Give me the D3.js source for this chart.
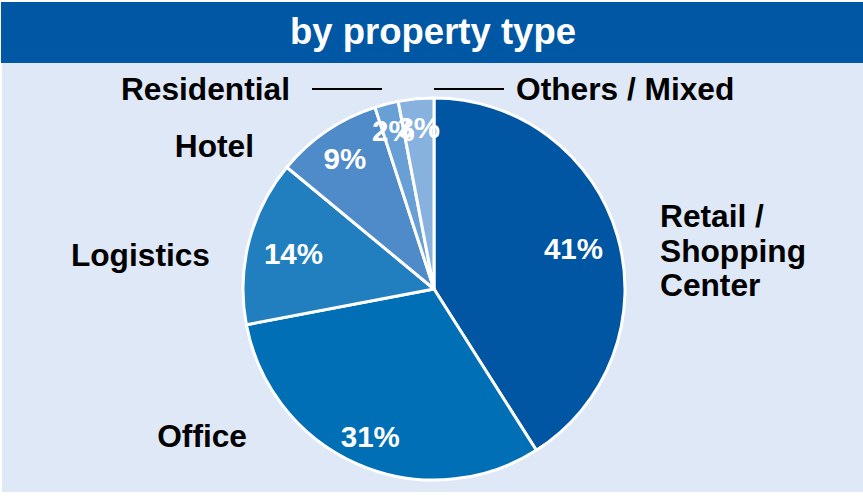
<!DOCTYPE html>
<html>
<head>
<meta charset="utf-8">
<script src="https://cdn.jsdelivr.net/npm/d3@7/dist/d3.min.js"></script>
<style>
  html, body { margin: 0; padding: 0; background: #ffffff; }
  svg { display: block; }
  text { font-family: "Liberation Sans", Arial, sans-serif; font-weight: bold; }
</style>
</head>
<body>
<svg id="chart" width="863" height="497"></svg>
<script>
// Portfolio split by property type (share in %)
const title = "by property type";
const categories = ["Retail / Shopping Center", "Office", "Logistics", "Hotel", "Residential", "Others / Mixed"];
const values = [41, 31, 14, 9, 2, 3];
const valueLabels = ["41%", "31%", "14%", "9%", "2%", "3%"];

// Slice colours, one per category
const colors = ["#0056A2", "#006FB5", "#217FC0", "#4E8BC8", "#68A0D5", "#87B1DE"];

const W = 863, H = 497;
const cx = 434, cy = 289, R = 191;

const svg = d3.select("#chart");

// header band and panel
svg.append("rect").attr("x", 1).attr("y", 2).attr("width", W - 1).attr("height", 61).attr("fill", "#0057A4");
svg.append("rect").attr("x", 2).attr("y", 63).attr("width", W - 2).attr("height", 429).attr("fill", "#DFE8F6");
svg.append("text")
  .attr("x", 433).attr("y", 44)
  .attr("text-anchor", "middle")
  .attr("fill", "#ffffff")
  .style("font-size", "36.5px")
  .text(title);

const pie = d3.pie().sort(null).value(d => d)(values);
const arc = d3.arc().innerRadius(0).outerRadius(R);

const g = svg.append("g").attr("transform", `translate(${cx},${cy})`);

g.selectAll("path.slice")
  .data(pie)
  .join("path")
  .attr("class", "slice")
  .attr("d", arc)
  .attr("fill", (d, i) => colors[i])
  .attr("stroke", "#ffffff")
  .attr("stroke-width", 3)
  .attr("stroke-linejoin", "round");

// value labels inside the slices, at a per-slice fraction of the radius
const labelRadius = [0.76, 0.84, 0.76, 0.83, 0.855, 0.85];
g.selectAll("text.value")
  .data(pie)
  .join("text")
  .attr("class", "value")
  .attr("transform", (d, i) => {
    const a = (d.startAngle + d.endAngle) / 2;
    const r = R * labelRadius[i];
    return `translate(${Math.sin(a) * r},${-Math.cos(a) * r})`;
  })
  .attr("text-anchor", "middle")
  .attr("dy", "0.36em")
  .attr("fill", "#ffffff")
  .style("font-size", "29.5px")
  .text((d, i) => valueLabels[i]);

// category labels around the pie
const catLayout = [
  { x: 660, y: 227, anchor: "start", lines: ["Retail /", "Shopping", "Center"] },
  { x: 247, y: 447, anchor: "end", lines: ["Office"] },
  { x: 210, y: 266, anchor: "end", lines: ["Logistics"] },
  { x: 254, y: 157, anchor: "end", lines: ["Hotel"] },
  { x: 290, y: 100, anchor: "end", lines: ["Residential"] },
  { x: 516, y: 100, anchor: "start", lines: ["Others / Mixed"] }
];

catLayout.forEach((c, i) => {
  const t = svg.append("text")
    .attr("x", c.x).attr("y", c.y)
    .attr("text-anchor", c.anchor)
    .attr("fill", "#000000")
    .style("font-size", "31.7px");
  c.lines.forEach((ln, k) => {
    t.append("tspan").attr("x", c.x).attr("dy", k === 0 ? 0 : 34.5).text(ln);
  });
});

// leader lines for the two thin slices
const leaders = [
  { x1: 312, x2: 382, y: 89 },
  { x1: 434, x2: 504, y: 89 }
];
svg.selectAll("line.leader")
  .data(leaders)
  .join("line")
  .attr("class", "leader")
  .attr("x1", d => d.x1).attr("x2", d => d.x2)
  .attr("y1", d => d.y).attr("y2", d => d.y)
  .attr("stroke", "#000000")
  .attr("stroke-width", 2);
</script>
</body>
</html>
